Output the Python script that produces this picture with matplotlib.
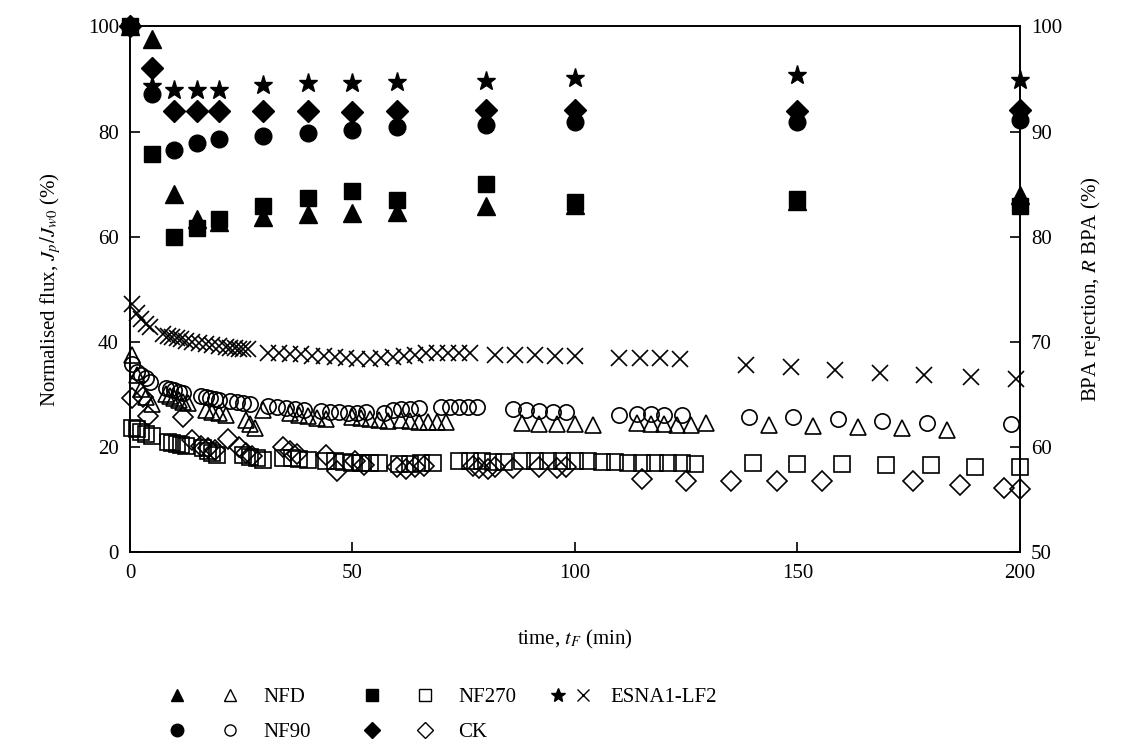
import matplotlib
matplotlib.use("Agg")
import matplotlib.pyplot as plt
from matplotlib.legend_handler import HandlerBase
from matplotlib.lines import Line2D

plt.rcParams['font.family'] = ['Liberation Serif', 'DejaVu Serif']
plt.rcParams['mathtext.fontset'] = 'stix'
plt.rcParams['font.size'] = 15

# ---- BPA rejection (right axis, filled markers) ----
t_rej = [0, 5, 10, 15, 20, 30, 40, 50, 60, 80, 100, 150, 200]
rej_nfd = [100, 98.8, 84.1, 81.7, 81.4, 81.9, 82.2, 82.3, 82.4, 82.9, 83.0, 83.4, 84.0]
rej_nf270 = [100, 87.9, 80.0, 80.8, 81.7, 82.9, 83.7, 84.4, 83.5, 85.0, 83.3, 83.6, 82.9]
rej_nf90 = [100, 93.6, 88.3, 88.9, 89.3, 89.6, 89.9, 90.2, 90.4, 90.6, 90.9, 90.9, 91.1]
rej_ck = [100, 96.1, 92.0, 92.0, 92.0, 92.0, 92.0, 91.9, 92.0, 92.1, 92.1, 92.0, 92.1]
rej_esna = [100, 94.3, 94.0, 94.0, 94.0, 94.4, 94.6, 94.6, 94.7, 94.8, 95.1, 95.4, 94.9]

# ---- normalised flux (left axis, open markers) ----
t_esna = [0.5, 1.5, 2.5, 3.5, 4.5, 7.5, 8.5, 9.5, 10.5, 11.5, 12.5, 14, 15.5, 17, 18.5, 20,
          21.5, 22.5, 23.5, 24.5, 25.5, 26.5, 31, 33.5, 36, 38.5, 41, 43.5, 46, 48.5, 51,
          54, 56.5, 59, 61.5, 64, 66.5, 69, 71.5, 74, 76.5, 82, 86.5, 91, 95.5, 100,
          110, 114.5, 119, 123.5, 138.5, 148.5, 158.5, 168.5, 178.5, 189, 199]
flux_esna = [47.2, 45.5, 44.3, 43.5, 42.8, 41.5, 41.2, 40.9, 40.7, 40.5, 40.3, 40.0, 39.8, 39.6, 39.5, 39.2,
             39.0, 38.9, 38.8, 38.7, 38.7, 38.6, 38.0, 37.9, 37.8, 37.8, 37.4, 37.3, 37.1, 36.9, 36.7,
             36.7, 37.0, 37.2, 37.4, 37.6, 37.9, 37.9, 37.9, 37.9, 37.9, 37.5, 37.5, 37.5, 37.4, 37.4,
             37.0, 37.0, 36.9, 36.8, 35.6, 35.2, 34.6, 34.2, 33.7, 33.3, 32.9]

t_nf90 = [0.5, 1.5, 2.5, 3.5, 4.5, 8, 9, 10, 11, 12, 16, 17, 18, 19, 20, 22.5, 24, 25.5, 27,
          31, 33, 35, 37, 39, 43, 45, 47, 49, 51, 53, 57, 59, 61, 63, 65, 70, 72, 74, 76, 78,
          86, 89, 92, 95, 98, 110, 114, 117, 120, 124, 139, 149, 159, 169, 179, 198]
flux_nf90 = [35.8, 34.4, 33.8, 33.2, 32.5, 31.3, 31.0, 30.8, 30.6, 30.3, 29.8, 29.5, 29.3, 29.1, 28.9,
             28.8, 28.6, 28.4, 28.2, 27.8, 27.6, 27.4, 27.3, 27.1, 26.9, 26.8, 26.7, 26.6, 26.6, 26.7,
             26.5, 27.0, 27.2, 27.3, 27.4, 27.6, 27.7, 27.7, 27.6, 27.6, 27.2, 27.0, 26.9, 26.8, 26.7,
             26.2, 26.4, 26.3, 26.2, 26.2, 25.8, 25.7, 25.3, 25.0, 24.7, 24.4]

t_nfd = [0.5, 1.5, 2.5, 3.5, 5, 8, 9, 10, 11, 12, 13, 17, 18.5, 20, 21.5, 26, 27, 28, 30,
         36, 38, 40, 42, 44, 50, 52, 54, 56, 58, 61, 63, 65, 67, 69, 71, 88, 92, 96, 100, 104,
         114, 117, 120, 123, 126, 129.5, 143.5, 153.5, 163.5, 173.5, 183.5]
flux_nfd = [37.5, 33.7, 31.0, 29.5, 28.3, 30.2, 29.8, 29.4, 29.0, 28.7, 28.4, 27.1, 26.8, 26.5, 26.2,
            25.2, 24.5, 23.7, 27.0, 26.5, 26.2, 25.9, 25.6, 25.3, 25.8, 25.5, 25.3, 25.1, 25.0,
            25.2, 25.0, 24.9, 24.9, 24.8, 24.8, 24.6, 24.5, 24.5, 24.4, 24.3,
            24.6, 24.5, 24.4, 24.3, 24.2, 24.6, 24.2, 24.1, 23.9, 23.7, 23.3]

t_nf270 = [0.5, 1.5, 2.5, 3.5, 5, 8.5, 9.5, 10.5, 11.5, 12.5, 16.5, 17.5, 18.5, 19.5,
           25.5, 27, 28.5, 30, 34.5, 36.5, 38, 40, 44, 46, 48, 50, 52, 54, 56, 60.5, 63, 65.5, 68,
           74, 76.5, 79, 81.5, 84, 88, 91, 94, 97, 100, 103, 106, 109, 112, 115, 118, 121, 124, 127,
           140, 150, 160, 170, 180, 190, 200]
flux_nf270 = [23.7, 23.4, 23.0, 22.5, 22.1, 21.1, 20.8, 20.6, 20.4, 20.2, 19.8, 19.3, 18.9, 18.5,
              18.5, 18.2, 18.0, 17.6, 18.0, 17.9, 17.7, 17.6, 17.4, 17.3, 17.2, 17.1, 17.0, 17.0, 17.0,
              16.8, 16.9, 17.0, 17.0, 17.4, 17.3, 17.3, 17.2, 17.2, 17.4, 17.4, 17.3, 17.3, 17.3, 17.3,
              17.2, 17.2, 17.1, 17.1, 17.0, 17.0, 17.0, 16.9, 17.0, 16.9, 16.8, 16.7, 16.6, 16.3, 16.2]

t_ck = [0.5, 3, 4, 12, 14, 16, 17.5, 19, 22, 24.5, 26, 27.5, 34.5, 36, 37.5, 44, 46.5, 50.5, 52.5,
        60, 62, 64, 66, 77, 78.5, 80.5, 82, 86, 92, 96, 98, 115, 125, 135, 145.5, 155.5,
        176, 186.5, 196.5, 200]
flux_ck = [29.3, 29.6, 26.0, 25.8, 21.4, 20.3, 19.9, 19.5, 21.5, 20.0, 19.0, 18.3, 20.0, 19.3, 18.7,
           18.5, 15.4, 17.3, 16.7, 16.3, 15.8, 16.2, 16.4, 16.5, 16.0, 15.8, 16.2, 16.0, 16.3, 16.0,
           16.2, 14.0, 13.5, 13.5, 13.5, 13.5, 13.5, 12.8, 12.3, 12.0]

fig = plt.figure(figsize=(11.38, 7.44), dpi=100)
ax = fig.add_axes([0.1142, 0.2574, 0.7821, 0.707])
ax2 = ax.twinx()

open_kw = dict(linestyle='none', markerfacecolor='none', markeredgecolor='black',
               markeredgewidth=1.2, clip_on=False)
ax.plot(t_esna, flux_esna, marker='x', markersize=12, color='black', **open_kw)
ax.plot(t_nf90, flux_nf90, marker='o', markersize=11, **open_kw)
ax.plot(t_nfd, flux_nfd, marker='^', markersize=12, **open_kw)
ax.plot(t_nf270, flux_nf270, marker='s', markersize=11, **open_kw)
ax.plot(t_ck, flux_ck, marker='D', markersize=10, **open_kw)

fill_kw = dict(linestyle='none', color='black', clip_on=False)
ax2.plot(t_rej, rej_nfd, marker='^', markersize=13, **fill_kw)
ax2.plot(t_rej, rej_nf270, marker='s', markersize=12, **fill_kw)
ax2.plot(t_rej, rej_nf90, marker='o', markersize=12, **fill_kw)
ax2.plot(t_rej, rej_ck, marker='D', markersize=11, **fill_kw)
ax2.plot(t_rej, rej_esna, marker='*', markersize=14, **fill_kw)

ax.set_xlim(0, 200)
ax.set_ylim(0, 100)
ax2.set_ylim(50, 100)
ax.set_xticks([0, 50, 100, 150, 200])
ax.set_yticks(range(0, 101, 20))
ax2.set_yticks(range(50, 101, 10))
ax.tick_params(direction='in', length=7, width=1.2, pad=8, labelsize=15)
ax2.tick_params(direction='in', length=7, width=1.2, pad=8, labelsize=15)
for a in (ax, ax2):
    for s in a.spines.values():
        s.set_linewidth(1.2)

ax.set_xlabel('time, $t_F$ (min)', fontsize=15, labelpad=33)
ax.set_ylabel('Normalised flux, $J_p/J_{w0}$ (%)', fontsize=15, labelpad=18)
ax2.set_ylabel('BPA rejection, $R$ BPA (%)', fontsize=15, labelpad=12)


class HandlerPair(HandlerBase):
    """two markers placed at given fractions of the handle width"""
    def __init__(self, f1, f2):
        super().__init__()
        self.f1, self.f2 = f1, f2

    def create_artists(self, legend, orig_handle, xdescent, ydescent, width, height,
                       fontsize, trans):
        y = height / 2 - ydescent
        out = []
        for h, f in zip(orig_handle, (self.f1, self.f2)):
            ln = Line2D([f * width - xdescent], [y], linestyle='none', marker=h.get_marker(),
                        markersize=h.get_markersize(), markerfacecolor=h.get_markerfacecolor(),
                        markeredgecolor=h.get_markeredgecolor(),
                        markeredgewidth=h.get_markeredgewidth())
            ln.set_transform(trans)
            out.append(ln)
        return out


def mk(m, filled, ms):
    if filled:
        return Line2D([], [], linestyle='none', marker=m, color='black', markersize=ms)
    return Line2D([], [], linestyle='none', marker=m, markerfacecolor='none',
                  markeredgecolor='black', markersize=ms, markeredgewidth=1.0)


h_nfd = (mk('^', True, 9), mk('^', False, 9))
h_nf90 = (mk('o', True, 9), mk('o', False, 8))
h_nf270 = (mk('s', True, 8.5), mk('s', False, 8))
h_ck = (mk('D', True, 8), mk('D', False, 8))
h_esna = (mk('*', True, 10), mk('x', False, 9))

pair = HandlerPair(0.03, 0.69)
leg_kw = dict(loc='upper left', frameon=False, fontsize=15, handlelength=3.84,
              handletextpad=0.4, labelspacing=0.74, borderpad=0, borderaxespad=0)
fig.legend([h_nfd, h_nf90, h_nf270, h_ck], ['NFD', 'NF90', 'NF270', 'CK'], ncol=2,
           bbox_to_anchor=(0.1535, 0.0755), columnspacing=2.84,
           handler_map={h_nfd: pair, h_nf90: pair, h_nf270: pair, h_ck: pair}, **leg_kw)
fig.legend([h_esna], ['ESNA1-LF2'], bbox_to_anchor=(0.4584, 0.0755),
           handler_map={h_esna: HandlerPair(0.454, 0.766)}, **leg_kw)

fig.savefig('out.png', dpi=100)
